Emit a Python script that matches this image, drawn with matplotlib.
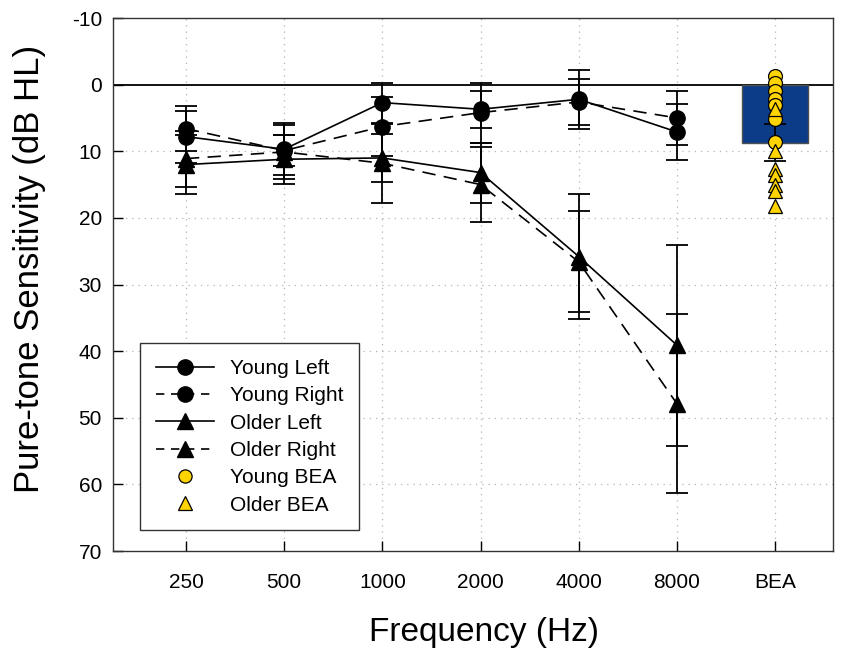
import matplotlib
matplotlib.use("Agg")
import matplotlib.pyplot as plt
from matplotlib.lines import Line2D
import numpy as np

plt.rcParams['font.family'] = ['Liberation Sans', 'DejaVu Sans']
plt.rcParams['axes.unicode_minus'] = False

# Audiometric frequencies plus the better-ear average column
freq_labels = ['250', '500', '1000', '2000', '4000', '8000', 'BEA']

# Group mean thresholds (dB HL) and standard deviations per ear
young_left = [7.8, 9.7, 2.7, 3.7, 2.2, 7.1]
young_left_sd = [3.9, 3.9, 3.0, 2.8, 4.4, 4.2]
young_right = [6.6, 9.9, 6.3, 4.2, 2.6, 5.0]
young_right_sd = [3.4, 2.3, 4.4, 4.5, 3.5, 4.0]
older_left = [12.0, 11.2, 11.0, 13.2, 25.8, 39.1]
older_left_sd = [4.4, 3.7, 3.6, 4.5, 9.4, 15.1]
older_right = [11.1, 10.1, 11.8, 15.0, 26.6, 47.9]
older_right_sd = [4.2, 4.1, 5.9, 5.6, 7.6, 13.4]

# Better-ear average: overall mean/SD and individual listeners
bea_mean = 8.7
bea_sd = 2.8
young_bea = [-1.3, -0.2, 1.0, 2.2, 3.0, 5.1, 8.6]
older_bea = [3.6, 9.9, 12.7, 13.6, 15.0, 15.9, 18.2]

fig = plt.figure(figsize=(8.47, 6.5), dpi=100)
ax = fig.add_axes([0.1334, 0.1523, 0.8501, 0.82])

x = np.arange(len(freq_labels) - 1)
bea_x = len(freq_labels) - 1

# dotted grid
for xi in range(len(freq_labels)):
    ax.axvline(xi, color='#b4b4b4', lw=0.9, ls=(0, (1, 4)), zorder=0)
for yv in range(10, 70, 10):
    ax.axhline(yv, color='#b4b4b4', lw=0.9, ls=(0, (1, 4)), zorder=0)
ax.axhline(0, color='black', lw=1.3, zorder=1)

common = dict(color='black', ecolor='black', elinewidth=1.3, capsize=8,
              capthick=1.3, lw=1.2, zorder=3)
ax.errorbar(x, young_left, yerr=young_left_sd, fmt='o', ls='-', ms=11, **common)
ax.errorbar(x, young_right, yerr=young_right_sd, fmt='o', ls=(0, (8, 5)), ms=11, **common)
ax.errorbar(x, older_left, yerr=older_left_sd, fmt='^', ls='-', ms=11, **common)
ax.errorbar(x, older_right, yerr=older_right_sd, fmt='^', ls=(0, (8, 5)), ms=11, **common)

# BEA bar with error bar and individual points
ax.bar(bea_x, bea_mean, width=0.67, color='#0c3c88', edgecolor='#505050', lw=1.0, zorder=2)
ax.errorbar(bea_x, bea_mean, yerr=bea_sd, fmt='none', ecolor='black', elinewidth=1.3,
            capsize=8, capthick=1.3, zorder=3)
ax.plot([bea_x] * len(young_bea), young_bea, 'o', ms=10, mfc='#ffd400', mec='black',
        mew=0.9, ls='none', zorder=4)
ax.plot([bea_x] * len(older_bea), older_bea, '^', ms=10, mfc='#ffd400', mec='black',
        mew=0.9, ls='none', zorder=5)

ax.set_xlim(-0.743, 6.59)
ax.set_ylim(70, -10)
ax.set_xticks(range(len(freq_labels)))
ax.set_xticklabels(freq_labels)
ax.set_yticks(range(-10, 80, 10))
ax.tick_params(direction='in', length=7, width=1.0, labelsize=15)
ax.tick_params(axis='x', pad=16)
ax.tick_params(axis='y', pad=8)
for s in ax.spines.values():
    s.set_linewidth(1.0)
    s.set_color('#333333')

ax.set_xlabel('Frequency (Hz)', fontsize=24, va='center')
ax.xaxis.set_label_coords(0.515, -0.152)
ax.set_ylabel('Pure-tone Sensitivity (dB HL)', fontsize=25, va='center')
ax.yaxis.set_label_coords(-0.116, 0.529)

handles = [
    Line2D([], [], color='black', ls='-', marker='o', ms=11, lw=1.2),
    Line2D([], [], color='black', ls=(0, (5, 4)), marker='o', ms=11, lw=1.2),
    Line2D([], [], color='black', ls='-', marker='^', ms=11, lw=1.2),
    Line2D([], [], color='black', ls=(0, (5, 4)), marker='^', ms=11, lw=1.2),
    Line2D([], [], ls='none', marker='o', ms=9.5, mfc='#ffd400', mec='black', mew=0.9),
    Line2D([], [], ls='none', marker='^', ms=9.5, mfc='#ffd400', mec='black', mew=0.9),
]
labels = ['Young Left', 'Young Right', 'Older Left', 'Older Right', 'Young BEA', 'Older BEA']
leg = ax.legend(handles, labels, loc='lower left', bbox_to_anchor=(0.0375, 0.039),
                fontsize=15, handlelength=2.8, handletextpad=0.75, labelspacing=0.4,
                borderpad=0.75, borderaxespad=0, fancybox=False, framealpha=1)
leg.get_frame().set_edgecolor('#333333')
leg.get_frame().set_linewidth(1.0)

fig.savefig('out.png', dpi=100)
